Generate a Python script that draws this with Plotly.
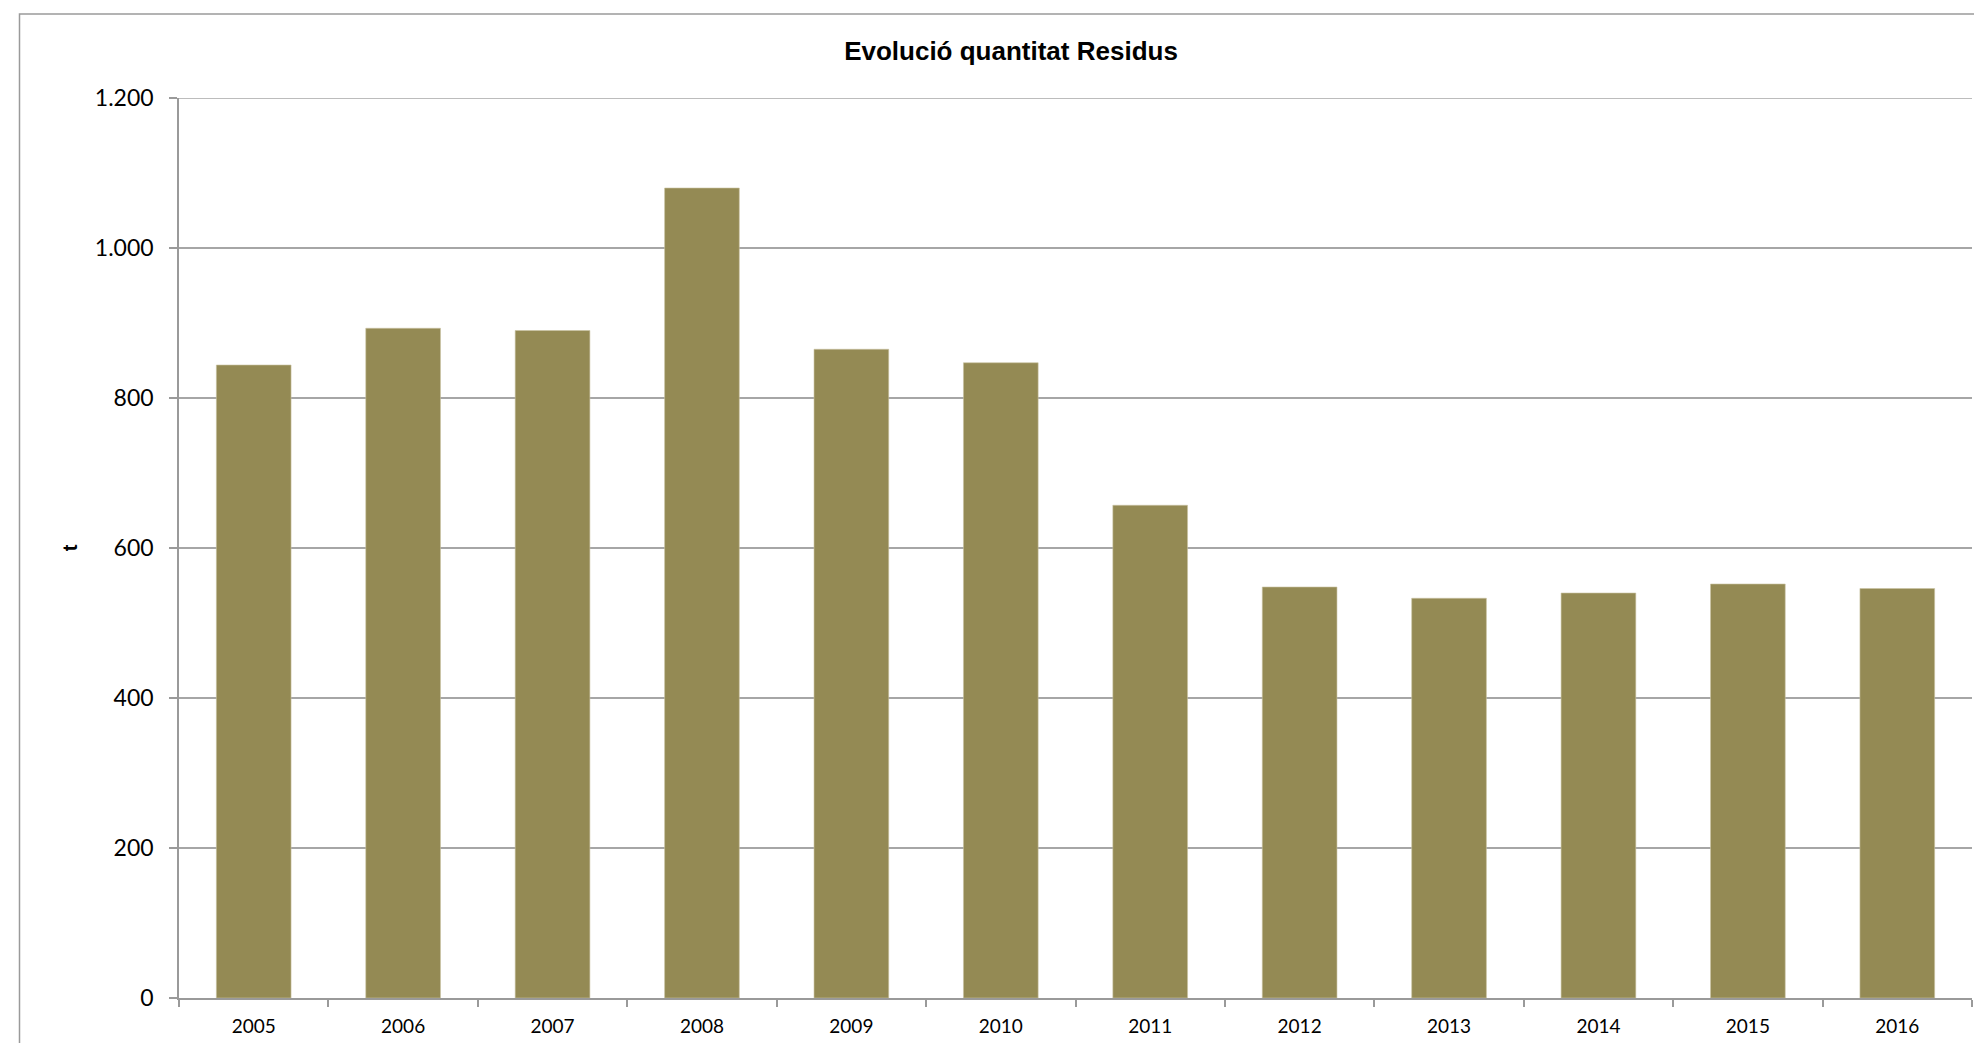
import plotly.graph_objects as go

years = ["2005", "2006", "2007", "2008", "2009", "2010", "2011", "2012", "2013", "2014", "2015", "2016"]
residus = [844, 893, 890, 1080, 865, 847, 657, 548, 533, 540, 552, 546]

y_tickvals = [0, 200, 400, 600, 800, 1000, 1200]
y_ticktext = ["0", "200", "400", "600", "800", "1.000", "1.200"]

W, H = 1974, 1043
L, R, T, B = 179, 2, 98, 45
pw, ph = W - L - R, H - T - B

def px_x(p):
    return (p - L) / pw

def px_y(p):
    return (H - B - p) / ph

fig = go.Figure()
fig.add_trace(go.Bar(
    x=years, y=residus,
    marker=dict(color="#948A54", line=dict(color="#C9C3A2", width=0.6)),
    hoverinfo="x+y",
))

fig.update_layout(
    width=W, height=H,
    margin=dict(l=L, r=R, t=T, b=B),
    paper_bgcolor="white", plot_bgcolor="white",
    bargap=0.5,
    showlegend=False,
    title=dict(
        text="<b>Evolució quantitat Residus</b>",
        x=1011 / W, xref="container", xanchor="center",
        y=1 - 51 / H, yref="container", yanchor="middle",
        font=dict(family="Liberation Sans, Arial", size=26, color="black"),
    ),
    font=dict(family="Lato", color="black"),
)

fig.update_xaxes(
    type="category",
    range=[-0.5, 11.5],
    showline=True, linecolor="#9a9a9a", linewidth=1.5,
    ticks="outside", tickson="boundaries", ticklen=7, tickwidth=1.5, tickcolor="#9a9a9a",
    tickfont=dict(family="Lato", size=19, color="black"),
    ticklabelstandoff=10,
    showgrid=False, zeroline=False,
)

fig.update_yaxes(
    range=[0, 1200],
    tickvals=y_tickvals, ticktext=y_ticktext,
    showline=True, linecolor="#9a9a9a", linewidth=1.5,
    ticks="outside", ticklen=8, tickwidth=1.5, tickcolor="#9a9a9a",
    tickfont=dict(family="Lato", size=23, color="black"),
    ticklabelstandoff=11,
    showgrid=True, gridcolor="#a6a6a6", gridwidth=1.5,
    zeroline=False,
    title=dict(text="<b>t</b>", font=dict(family="Liberation Sans, Arial", size=20, color="black"), standoff=12),
)

# top gridline (at the range edge)
fig.add_shape(
    type="line", xref="paper", yref="y",
    x0=0, x1=1, y0=y_tickvals[-1], y1=y_tickvals[-1],
    line=dict(color="#a6a6a6", width=1.5), layer="below",
)

# outer chart-area border
fig.add_shape(
    type="rect", xref="paper", yref="paper",
    x0=px_x(19.5), x1=px_x(2010), y0=px_y(1080), y1=px_y(14),
    line=dict(color="#9a9a9a", width=1.5), fillcolor="rgba(0,0,0,0)", layer="below",
)

fig.write_html(
    "out.html",
    config={"displayModeBar": False},
    post_script="document.body.style.margin='0';document.body.style.overflow='hidden';",
)
